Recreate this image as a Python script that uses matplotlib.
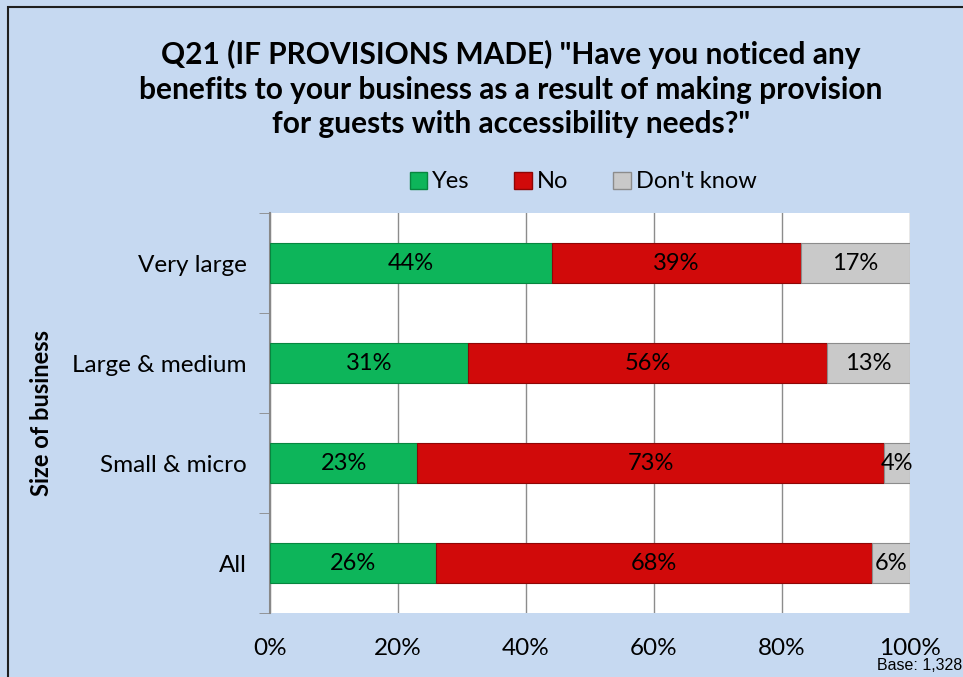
import matplotlib
matplotlib.use("Agg")
import matplotlib.pyplot as plt
from matplotlib.patches import Rectangle, Patch
import numpy as np

categories = ["Very large", "Large & medium", "Small & micro", "All"]
yes = [44, 31, 23, 26]
no = [39, 56, 73, 68]
dont_know = [17, 13, 4, 6]
series_names = ["Yes", "No", "Don't know"]
xticks = [0, 20, 40, 60, 80, 100]
xtick_labels = ["0%", "20%", "40%", "60%", "80%", "100%"]

colors = ["#0DB55A", "#D10A0A", "#C9C9C9"]
edges = ["#07863F", "#8E0606", "#8C8C8C"]

plt.rcParams['font.family'] = ['Lato', 'DejaVu Sans']

W, H = 963, 677
fig = plt.figure(figsize=(W / 100, H / 100), dpi=100)
fig.patch.set_facecolor("#C6D9F1")

# border
fig.patches.append(Rectangle((8 / W, -0.1), 1.2, (H - 7) / H + 0.1, transform=fig.transFigure,
                             fill=False, edgecolor="#1F1F1F", linewidth=1.5))

ax = fig.add_axes([270 / W, (H - 613) / H, 640 / W, 400 / H])
ax.set_facecolor("white")

y = np.arange(len(categories))
left = np.zeros(len(categories))
for vals, c, e, name in zip([yes, no, dont_know], colors, edges, series_names):
    ax.barh(y, vals, left=left, height=0.4, color=c, edgecolor=e, linewidth=0.8, zorder=3, label=name)
    for yi, v, l in zip(y, vals, left):
        ax.text(l + v / 2, yi, f"{v}%", ha="center", va="center", fontsize=17, color="black", zorder=4)
    left = left + np.array(vals)

ax.set_xlim(0, 100)
ax.set_ylim(len(categories) - 0.5, -0.5)
ax.set_xticks(xticks)
ax.set_xticklabels(xtick_labels, fontsize=17.5)
ax.set_yticks(y)
ax.set_yticklabels(categories, fontsize=17.5)
ax.set_yticks(np.arange(-0.5, len(categories), 1), minor=True)
ax.tick_params(axis="y", which="major", length=0, pad=17)
ax.tick_params(axis="y", which="minor", length=8, color="#888888", direction="out")
ax.tick_params(axis="x", which="major", length=0, pad=18)
ax.grid(axis="x", color="#8C8C8C", linewidth=1, zorder=0)
for s in ["top", "right", "bottom"]:
    ax.spines[s].set_visible(False)
ax.spines["left"].set_color("#888888")
ax.spines["left"].set_linewidth(1.5)

ax.set_ylabel("Size of business", fontsize=17, fontweight="bold")
ax.yaxis.set_label_coords((53 - 270) / 640, 0.5)

fig.text(511 / W, 1 - 89 / H,
         'Q21 (IF PROVISIONS MADE) "Have you noticed any\nbenefits to your business as a result of making provision\nfor guests with accessibility needs?"',
         ha="center", va="center", fontsize=21.5, fontweight="bold", linespacing=1.3)

handles = [Patch(facecolor=c, edgecolor=e) for c, e in zip(colors, edges)]
fig.legend(handles, series_names, loc="center", bbox_to_anchor=(583 / W, 1 - 182 / H), ncol=3,
           frameon=False, fontsize=17, handlelength=0.75, handleheight=0.75, handletextpad=0.2,
           columnspacing=1.9)

fig.text(962 / W, 1 - 666 / H, "Base: 1,328", ha="right", va="center", fontsize=11.5,
         family=["Liberation Sans", "DejaVu Sans"])

fig.savefig("out.png", dpi=100, facecolor=fig.get_facecolor())
